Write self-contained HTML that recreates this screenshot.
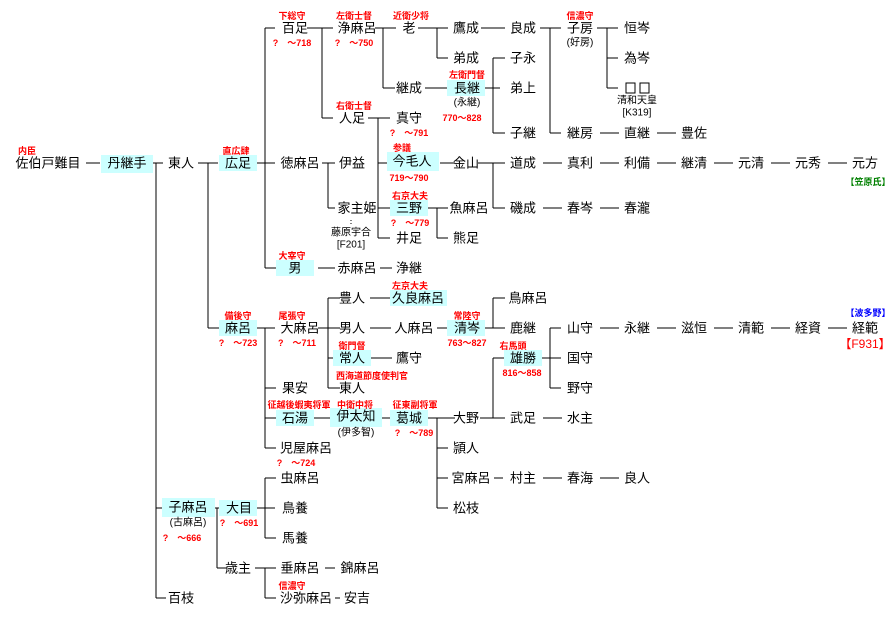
<!DOCTYPE html>
<html><head><meta charset="utf-8"><style>
html,body{margin:0;padding:0;background:#fff;}
svg{display:block;}
text{font-family:"Liberation Sans","Noto Sans CJK JP",sans-serif;text-anchor:middle;dominant-baseline:central;}
.n{font-size:13px;fill:#000;}
.s{font-size:10px;fill:#000;}
.r{font-size:9px;fill:#f00;font-weight:bold;}
.b{fill:#ccffff;}
line,path{stroke:#000;stroke-width:1;fill:none;}
</style></head><body>
<svg width="896" height="629" viewBox="0 0 896 629" xmlns="http://www.w3.org/2000/svg">
<rect class="b" x="101" y="155" width="52" height="18"/>
<rect class="b" x="219" y="155" width="38" height="16"/>
<rect class="b" x="387" y="152" width="52" height="19"/>
<rect class="b" x="390" y="200" width="38" height="16"/>
<rect class="b" x="447" y="80" width="38" height="16"/>
<rect class="b" x="276" y="260" width="38" height="16"/>
<rect class="b" x="390" y="290" width="57" height="16"/>
<rect class="b" x="219" y="320" width="38" height="16"/>
<rect class="b" x="447" y="320" width="38" height="16"/>
<rect class="b" x="333" y="350" width="38" height="16"/>
<rect class="b" x="504" y="350" width="38" height="16"/>
<rect class="b" x="276" y="410" width="38" height="16"/>
<rect class="b" x="330" y="408" width="52" height="19"/>
<rect class="b" x="390" y="410" width="38" height="16"/>
<rect class="b" x="162" y="498" width="53" height="19"/>
<rect class="b" x="219" y="500" width="38" height="16"/>

<path d="
M86 163H100 M153 163H163 M156 163V598 M156 508H162 M156 598H166
M198 163H218 M208 163V328 M208 328H219
M257 163H275 M265 28V268 M265 28H275 M265 268H276
M307 28H333 M322 28V118 M322 118H333
M375 28H396 M383 28V88 M383 88H395
M418 28H448 M437 28V58 M437 58H448
M425 88H447
M485 88H500 M493 58V133 M493 58H505 M493 133H505
M481 28H505
M540 28H561 M550 28V133 M550 133H561
M597 28H618 M607 28V88 M607 58H618 M607 88H618
M600 133H619 M657 133H676
M368 118H390 M378 118V238 M378 163H387 M378 208H390 M378 238H390
M322 163H335 M328 163V208 M328 208H335
M440 163H455
M478 163H505 M493 163V208 M493 208H505
M428 208H448 M437 208V238 M437 238H448
M543 163H562 M600 163H619 M657 163H676 M714 163H733 M771 163H790 M828 163H847
M543 208H562 M600 208H619
M318 268H335 M380 268H392
M257 328H275 M265 328V448 M265 388H276 M265 418H276 M265 448H276
M318 328H340 M328 298V388 M328 298H340 M328 358H333 M328 388H340
M370 298H390 M370 328H391 M437 328H447
M485 328H505 M493 298V328 M493 298H505
M371 358H392
M314 418H330 M382 418H390
M428 418H455 M437 418V508 M437 448H448 M437 478H448 M437 508H448
M480 418H505 M493 358V418 M493 358H504
M543 418H562
M542 358H561 M550 328V388 M550 328H561 M550 388H561
M600 328H619 M657 328H676 M714 328H733 M771 328H790 M828 328H847
M494 478H503 M543 478H562 M600 478H619
M215 508H219 M217 508V568 M217 568H227
M257 508H275 M265 478V538 M265 478H276 M265 538H276
M255 568H276 M265 568V598 M265 598H276
M325 568H335 M335 598H340
"/>
<line x1="351" y1="220" x2="351" y2="226" stroke-dasharray="1,2"/>

<text class="n" x="48" y="163">佐伯戸難目</text>
<text class="n" x="127" y="163">丹継手</text>
<text class="n" x="181" y="163">東人</text>
<text class="n" x="238" y="163">広足</text>
<text class="n" x="295" y="28">百足</text>
<text class="n" x="300" y="163">徳麻呂</text>
<text class="n" x="295" y="268">男</text>
<text class="n" x="357" y="28">浄麻呂</text>
<text class="n" x="352" y="118">人足</text>
<text class="n" x="352" y="163">伊益</text>
<text class="n" x="357" y="208">家主姫</text>
<text class="s" x="351" y="233">藤原宇合</text>
<text class="s" x="351" y="245">[F201]</text>
<text class="n" x="409" y="28">老</text>
<text class="n" x="409" y="88">継成</text>
<text class="n" x="409" y="118">真守</text>
<text class="n" x="412" y="161">今毛人</text>
<text class="n" x="409" y="208">三野</text>
<text class="n" x="409" y="238">井足</text>
<text class="n" x="466" y="28">鷹成</text>
<text class="n" x="466" y="58">弟成</text>
<text class="n" x="467" y="88">長継</text>
<text class="s" x="467" y="103">(永継)</text>
<text class="n" x="466" y="163">金山</text>
<text class="n" x="469" y="208">魚麻呂</text>
<text class="n" x="466" y="238">熊足</text>
<text class="n" x="523" y="28">良成</text>
<text class="n" x="523" y="58">子永</text>
<text class="n" x="523" y="88">弟上</text>
<text class="n" x="523" y="133">子継</text>
<text class="n" x="523" y="163">道成</text>
<text class="n" x="523" y="208">磯成</text>
<text class="n" x="580" y="28">子房</text>
<text class="s" x="580" y="43">(好房)</text>
<text class="n" x="580" y="133">継房</text>
<text class="n" x="580" y="163">真利</text>
<text class="n" x="580" y="208">春岑</text>
<text class="n" x="637" y="28">恒岑</text>
<text class="n" x="637" y="58">為岑</text>
<rect x="626" y="83" width="9" height="10" fill="none" stroke="#000" stroke-width="1"/>
<rect x="640" y="83" width="9" height="10" fill="none" stroke="#000" stroke-width="1"/>
<text class="s" x="637" y="101">清和天皇</text>
<text class="s" x="637" y="113">[K319]</text>
<text class="n" x="637" y="133">直継</text>
<text class="n" x="637" y="163">利備</text>
<text class="n" x="637" y="208">春瀧</text>
<text class="n" x="694" y="133">豊佐</text>
<text class="n" x="694" y="163">継清</text>
<text class="n" x="751" y="163">元清</text>
<text class="n" x="808" y="163">元秀</text>
<text class="n" x="865" y="163">元方</text>
<text class="r" x="868" y="182" style="fill:#008000">【笠原氏】</text>
<text class="n" x="357" y="268">赤麻呂</text>
<text class="n" x="409" y="268">浄継</text>

<text class="n" x="238" y="328">麻呂</text>
<text class="n" x="300" y="328">大麻呂</text>
<text class="n" x="295" y="388">果安</text>
<text class="n" x="295" y="418">石湯</text>
<text class="n" x="306" y="448">児屋麻呂</text>
<text class="n" x="352" y="298">豊人</text>
<text class="n" x="352" y="328">男人</text>
<text class="n" x="352" y="358">常人</text>
<text class="n" x="352" y="388">東人</text>
<text class="n" x="418" y="298">久良麻呂</text>
<text class="n" x="414" y="328">人麻呂</text>
<text class="n" x="409" y="358">鷹守</text>
<text class="n" x="356" y="416">伊太知</text>
<text class="s" x="356" y="433">(伊多智)</text>
<text class="n" x="409" y="418">葛城</text>
<text class="n" x="467" y="328">清岑</text>
<text class="n" x="528" y="298">鳥麻呂</text>
<text class="n" x="523" y="328">鹿継</text>
<text class="n" x="523" y="358">雄勝</text>
<text class="n" x="466" y="418">大野</text>
<text class="n" x="466" y="448">頴人</text>
<text class="n" x="471" y="478">宮麻呂</text>
<text class="n" x="466" y="508">松枝</text>
<text class="n" x="523" y="418">武足</text>
<text class="n" x="580" y="418">水主</text>
<text class="n" x="523" y="478">村主</text>
<text class="n" x="580" y="478">春海</text>
<text class="n" x="637" y="478">良人</text>
<text class="n" x="580" y="328">山守</text>
<text class="n" x="580" y="358">国守</text>
<text class="n" x="580" y="388">野守</text>
<text class="n" x="637" y="328">永継</text>
<text class="n" x="694" y="328">滋恒</text>
<text class="n" x="751" y="328">清範</text>
<text class="n" x="808" y="328">経資</text>
<text class="n" x="865" y="328">経範</text>
<text class="r" x="868" y="313" style="fill:#0000ff">【波多野】</text>
<text x="865" y="344" style="font-size:12px;fill:#f00">【F931】</text>
<text class="n" x="188" y="507">子麻呂</text>
<text class="s" x="188" y="523">(古麻呂)</text>
<text class="n" x="239" y="508">大目</text>
<text class="n" x="300" y="478">虫麻呂</text>
<text class="n" x="295" y="508">鳥養</text>
<text class="n" x="295" y="538">馬養</text>
<text class="n" x="238" y="568">歳主</text>
<text class="n" x="300" y="568">垂麻呂</text>
<text class="n" x="360" y="568">錦麻呂</text>
<text class="n" x="306" y="598">沙弥麻呂</text>
<text class="n" x="357" y="598">安吉</text>
<text class="n" x="181" y="598">百枝</text>

<text class="r" x="27" y="151">内臣</text>
<text class="r" x="236" y="151">直広肆</text>
<text class="r" x="292" y="16">下総守</text>
<text class="r" x="292" y="43">?　～718</text>
<text class="r" x="354" y="16">左衛士督</text>
<text class="r" x="354" y="43">?　～750</text>
<text class="r" x="411" y="16">近衛少将</text>
<text class="r" x="354" y="106">右衛士督</text>
<text class="r" x="409" y="133">?　～791</text>
<text class="r" x="402" y="148">参議</text>
<text class="r" x="409" y="178">719～790</text>
<text class="r" x="410" y="196">右京大夫</text>
<text class="r" x="410" y="223">?　～779</text>
<text class="r" x="467" y="75">左衛門督</text>
<text class="r" x="462" y="118">770～828</text>
<text class="r" x="580" y="16">信濃守</text>
<text class="r" x="292" y="256">大宰守</text>
<text class="r" x="410" y="286">左京大夫</text>
<text class="r" x="238" y="316">備後守</text>
<text class="r" x="238" y="343">?　～723</text>
<text class="r" x="292" y="316">尾張守</text>
<text class="r" x="297" y="343">?　～711</text>
<text class="r" x="467" y="316">常陸守</text>
<text class="r" x="467" y="343">763～827</text>
<text class="r" x="352" y="346">衛門督</text>
<text class="r" x="372" y="376">西海道節度使判官</text>
<text class="r" x="513" y="346">右馬頭</text>
<text class="r" x="522" y="373">816～858</text>
<text class="r" x="299" y="405">征越後蝦夷将軍</text>
<text class="r" x="355" y="405">中衛中将</text>
<text class="r" x="415" y="405">征東副将軍</text>
<text class="r" x="414" y="433">?　～789</text>
<text class="r" x="296" y="463">?　～724</text>
<text class="r" x="239" y="523">?　～691</text>
<text class="r" x="182" y="538">?　～666</text>
<text class="r" x="292" y="586">信濃守</text>
</svg>
</body></html>
